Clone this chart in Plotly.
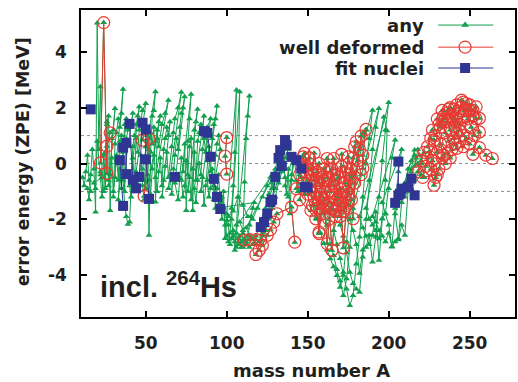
import plotly.graph_objects as go

# Error of the zero-point energy per nucleus: (mass number A, error in MeV).
# Nuclei are listed isotopic chain by isotopic chain; None breaks a line.

# nuclei that are not classed as well deformed
light_nuclei = [
    (11, -0.5), (12, -0.8), (13, -0.3), (14, 0.3), (15, -0.6), (16, -1.0),
    (14, -0.9), (15, -1.3), (16, -0.4), (17, 0.5), (18, -0.2), (19, -1.74), (20, 5.03), (21, 0.5), (22, 2.75), (23, -0.5),
    (18, -0.7), (19, -0.9), (20, 0.8), (22, -0.4), (23, -1.2), (24, 0.3), (25, -0.9), (26, 1.4), (27, -0.6),
    (22, -0.3), (24, -1.0), (25, 0.4), (26, 1.5), (27, 1.7), (28, -1.68), (29, 0.9), (30, 1.2), (31, 1.97),
    (27, -0.8), (28, -0.4), (29, 0.2), (30, -1.2), (31, 0.7), (32, 1.1), (33, 1.6), (34, 1.3), (35, 1.8), (36, 2.66),
    (30, -1.0), (31, -0.5), (32, 0.3), (33, -0.6), (34, 0.8), (35, 1.0), (36, 0.4), (37, 1.4), (38, 1.6),
    (33, -1.3), (34, -0.2), (35, -0.9), (36, 0.6), (37, -1.0), (38, 0.9), (39, 1.2), (40, 1.5), (41, 1.3), (42, 1.8),
    (36, -0.6), (37, -1.5), (38, -1.9), (39, -2.18), (40, -2.1), (41, -0.4), (42, 0.6), (43, 1.0), (44, 1.4), (45, 1.7), (46, 2.03),
    (40, -0.8), (41, -1.2), (42, 0.2), (43, -0.7), (44, 0.9), (45, 0.4), (46, 1.2), (47, 1.5), (48, 1.9), (50, 2.15),
    (44, -0.3), (45, -1.0), (46, -0.5), (47, 0.3), (48, -0.8), (49, -1.3), (50, 0.6), (51, 1.0), (52, -2.57), (53, 0.4), (54, 1.7), (55, 1.9), (56, 2.57),
    (48, -0.2), (50, -0.9), (51, -0.4), (52, 0.5), (53, 1.1), (54, 0.7), (55, 1.3), (56, -1.38), (57, 0.9), (58, 1.5), (59, 1.7),
    (52, -0.6), (53, -1.1), (54, -0.2), (55, 0.3), (56, 0.8), (57, 1.2), (58, 0.6), (60, 1.4), (62, 1.8), (64, 2.27),
    (56, -0.5), (57, -1.0), (58, -0.3), (59, 0.2), (60, -0.8), (61, 0.5), (62, 0.9), (63, 1.3), (64, 1.0), (65, 1.5),
    (60, -1.2), (61, -0.6), (62, -0.1), (63, 0.4), (64, -0.5), (66, 0.6), (67, 1.1), (68, 1.6), (70, 2.0), (72, 2.55),
    (64, -0.9), (65, -0.4), (66, -1.1), (67, -0.2), (68, 0.3), (69, 0.9), (70, 0.5), (71, 1.3), (72, 1.8), (73, 2.0), (74, 2.39),
    (68, -0.7), (70, -1.3), (71, -0.5), (72, 0.2), (73, -0.3), (74, 0.7), (75, -1.68), (76, 0.8), (77, 1.6), (78, 2.48),
    (72, -0.6), (73, -1.2), (74, -0.8), (75, 0.1), (76, -0.4), (77, 0.6), (78, 0.9), (79, -1.68), (80, 1.2), (81, 1.5), (82, 1.94),
    (76, -1.0), (77, -0.5), (78, -1.3), (79, -0.2), (80, 0.4), (81, -0.6), (82, 0.8), (83, 1.1), (84, 1.4), (85, 1.2), (86, 1.7),
    (80, -0.9), (81, -1.4), (82, -0.6), (83, 0.0), (84, -0.4), (85, 0.5), (86, 0.9), (87, 0.4), (88, 1.3), (90, 1.6),
    (84, -1.0), (85, -0.5), (86, -1.5), (87, -0.8), (88, 0.1), (89, 0.6), (90, -0.3), (91, 0.9), (92, 1.4), (93, 1.6), (94, 2.06),
    (88, -0.6), (89, -1.2), (90, -0.9), (91, -0.2), (92, -1.3), (93, 0.3), (94, 0.7), (95, 1.0), (96, 0.5),
    (92, -0.8), (93, -1.6), (94, -0.9), (95, -0.4), (96, -1.4), (97, -2.0), (98, -1.0), (99, -2.69), (100, -2.04),
]

medium_nuclei = [
    (97, -1.2), (98, -1.6), (99, -2.2), (100, -2.6), (101, -2.8), (102, -2.5), (103, -1.6), (104, -0.8), (105, 0.4), (106, 2.63),
    (100, -1.8), (101, -2.2), (102, -2.9), (103, -2.7), (104, -2.4), (105, -3.11), (106, -2.2), (107, -1.2), (108, 2.57),
    (103, -2.0), (104, -2.6), (105, -2.8), (106, -3.0), (107, -2.7), (108, -2.9), (109, -3.0), (110, -2.5), (111, -0.66), (112, 0.9), (113, 1.7), (114, 2.42),
    (106, -2.5), (107, -2.9), (108, -2.6), (109, -2.8), (110, -3.0), (111, -2.7), (112, -2.9), (113, -2.6), (114, -2.2), (115, -1.9), (116, -1.6), (117, -1.4),
    (98, -1.56), (101, -1.9), (104, -1.7), (107, -1.2), (110, -1.5), (113, -1.9), (116, -2.0), (119, -1.6), (122, -1.2), (125, -0.8), (127, -0.48),
    (108, -2.1), (110, -2.4), (112, -2.8), (114, -3.0), (116, -2.9), (118, -2.6), (120, -2.3), (122, -2.0), (124, -1.6), (126, -1.1), (128, -0.7), (130, -0.3),
    (112, -2.3), (114, -2.6), (116, -2.7), (118, -2.9), (120, -2.8), (122, -2.5), (124, -2.2), (126, -1.7), (128, -1.3), (130, -0.9), (132, -0.5), (134, 0.0),
    (120, -2.2), (122, -2.6), (124, -2.4), (126, -2.0), (128, -1.6), (130, -1.2), (132, -0.7), (134, -0.3), (136, 0.2), (138, 0.5),
    (128, -0.9), (130, -0.2), (132, 0.3), (134, 0.6), (135, 0.1), (136, -0.5), (137, -1.1), (138, -0.2), (139, -1.8), (140, -0.6), (141, 0.3),
    (136, -0.8), (138, -1.2), (140, -0.4), (142, 0.1), (143, -0.6), (144, -1.0), (145, 0.2), (146, -0.5), (148, -1.1), (150, -0.6),
]

heavy_nuclei = [
    (152, -1.0), (154, -1.5), (156, -2.0), (158, -2.5), (160, -2.87), (162, -3.1), (164, -3.41), (166, -3.7), (168, -4.01), (170, -4.43), (172, -4.0), (174, -2.8), (176, -1.5), (178, -0.4),
    (160, -1.8), (162, -2.2), (164, -2.9), (166, -3.3), (168, -3.8), (170, -4.2), (172, -4.73), (174, -4.13), (176, -3.0), (178, -1.6), (180, -0.3), (182, 0.6), (184, 1.1), (186, 1.2),
    (166, -2.4), (168, -2.9), (170, -3.4), (172, -3.9), (174, -4.5), (176, -5.09), (178, -4.73), (180, -3.6), (182, -2.63), (184, -1.2), (186, 0.0), (188, 0.9), (190, 1.91),
    (170, -2.2), (172, -2.6), (174, -3.2), (176, -3.9), (178, -4.3), (180, -4.5), (182, -4.61), (184, -3.35), (186, -2.0), (188, -0.6), (190, 0.5), (192, 1.3), (194, 1.97),
    (176, -2.0), (178, -2.4), (180, -2.9), (182, -3.93), (184, -3.1), (186, -3.0), (188, -2.57), (190, -3.53), (192, -2.63), (194, -1.2), (196, 0.1), (198, 1.2), (200, 2.19),
    (182, -1.9), (184, -2.3), (186, -2.6), (188, -2.9), (190, -2.57), (192, -1.74), (194, -3.47), (196, -1.98), (198, -0.6), (199, 1.17), (197, 1.67),
    (186, -1.6), (188, -2.0), (190, -2.2), (192, -2.4), (194, -2.7), (196, -1.98), (198, -1.8), (200, -0.9), (202, 0.2), (204, 0.84),
    (190, -1.9), (192, -2.1), (194, -2.4), (196, -2.6), (198, -2.8), (200, -2.5), (202, -2.97), (204, -1.6), (206, -0.3), (208, 0.5),
    (196, -1.4), (198, -1.8), (200, -2.2), (202, -2.99), (204, -2.8), (206, -2.73), (208, -2.2), (210, -2.57), (212, -1.0), (214, -0.2), (216, 0.48),
    (204, -1.8), (206, -2.69), (208, -1.4), (210, -0.7), (212, -0.2), (214, 0.1), (216, 0.3), (218, 0.0), (220, -0.4),
    (210, -1.2), (212, -0.6), (214, -0.3), (216, -0.1), (217, 0.2), (218, 0.5), (219, 0.3), (220, 0.0), (222, -0.5),
]

# well deformed nuclei
deformed_light = [
    (22, 0.02), (24, 5.05), (26, -0.36), (26, 0.62), (28, 1.1), None,
    (48, 0.84), (52, 0.9), (49, -1.17), None,
    (100, -0.38), (99, 0.26), (100, 0.93),
]

deformed_medium = [
    (111, -2.75), (114, -2.73), (118, -2.73), (121, -2.75), (118, -3.26), (120, -3.11), (122, -2.93),
    (125, -2.57), (127, -2.37), (129, -2.1), (131, -1.8), (140, -1.56), (142, -2.82),
]

deformed_heavy = [
    (143, -0.9), (145, -0.4), (147, 0.24), (149, -0.3), (151, -0.9), (153, -1.5), (155, -1.98),
    (145, -1.3), (147, -0.7), (149, -0.1), (151, 0.2), (153, -0.4), (155, -1.0), (157, -2.45), (159, -1.4),
    (148, 0.36), (150, -0.2), (152, -0.6), (154, 0.38), (156, -0.3), (158, -0.8), (160, -1.3), (162, -2.87), (164, -1.6),
    (150, -1.1), (152, -1.68), (154, -1.2), (156, -0.7), (157, 0.0), (159, -0.5), (161, -1.0), (163, -1.4), (165, -3.11), (167, -1.7),
    (153, -0.2), (155, -0.6), (157, -2.51), (158, -1.1), (160, -0.6), (162, 0.18), (164, -0.3), (166, -0.8), (168, -1.3), (170, -1.9),
    (156, -1.6), (158, -1.2), (160, -0.2), (162, -0.5), (164, -1.0), (166, 0.18), (168, -0.4), (170, -0.9), (172, -3.02), (174, -1.5),
    (159, -1.8), (161, -1.5), (163, -0.8), (165, -0.2), (167, -0.6), (169, -1.2), (171, 0.33), (173, -0.3), (175, -0.8), (177, -1.3),
    (163, -2.0), (165, -1.6), (167, -1.1), (169, -0.5), (171, -0.1), (173, -0.7), (175, 0.24), (177, -0.2), (179, -0.7), (178, -1.98),
    (167, -1.9), (169, -1.5), (171, -1.2), (173, -1.6), (175, -1.1), (177, -0.5), (179, 0.6), (181, 0.1), (183, -0.4),
    (172, -1.7), (174, -1.0), (176, -0.4), (178, 0.2), (180, 0.78), (182, 0.5), (183, 0.98), (186, 1.22), (184, 0.3), (184, -0.18),
    None,
    (218, -0.3), (220, 0.1), (222, 0.4), (224, 0.2), (226, -0.2), (228, -0.78), (230, -0.4),
    (221, -0.5), (223, -0.1), (225, 0.42), (227, 0.1), (229, -0.5), (231, -0.2), (233, 0.2), (235, 0.0),
    (224, 0.6), (226, 0.9), (228, 0.84), (230, 0.4), (232, 0.7), (234, 0.3), (236, 0.36), (238, 0.2),
    (227, 1.2), (229, 1.0), (231, 1.4), (233, 1.55), (235, 1.1), (237, 0.8), (239, 0.5), (241, 0.7), (242, 0.54),
    (230, 1.6), (232, 1.3), (234, 1.7), (236, 1.5), (238, 1.2), (240, 0.9), (242, 1.1), (244, 0.8), (246, 0.6),
    (233, 1.9), (235, 1.6), (237, 1.95), (239, 1.7), (240, 1.95), (242, 1.5), (244, 1.2), (246, 1.0), (248, 0.9), (250, 0.7),
    (236, 1.8), (238, 2.0), (241, 1.31), (243, 1.8), (245, 2.27), (247, 1.9), (249, 1.6), (251, 1.3), (253, 1.0),
    (240, 1.6), (242, 2.1), (244, 2.0), (246, 2.2), (248, 2.15), (250, 1.9), (252, 1.7), (254, 2.03), (256, 1.62),
    (244, 1.4), (246, 1.7), (248, 1.9), (250, 2.1), (252, 1.9), (254, 1.6), (256, 1.13), (252, 0.33), (256, 0.57), (260, 0.3), (264, 0.18),
]

# nuclei used in the fit
fit_nuclei = [
    (16, 1.94), None,
    (34, 0.12), (36, -1.52), None,
    (36, 0.57), (38, 0.74), (38, -0.38), None,
    (40, 1.42), (42, -0.58), (44, -0.89), None,
    (46, -0.48), (48, 1.46), None,
    (50, 1.22), (50, 0.15), (52, -1.27), None,
    (68, -0.48), None,
    (86, 1.16), (88, 1.1), (90, 0.24), None,
    (92, -0.55), (94, -1.2), (96, -1.63), None,
    (121, -2.28), (123, -2.1), (125, -1.8), (127, -1.38), None,
    (128, -1.3), (130, -0.48), (132, 0.2), (133, 0.48), None,
    (134, -0.09), (136, 0.84), (137, 0.66), None,
    (140, 0.24), (143, 0.12), (146, -0.18), None,
    (148, -0.84), (150, -0.86), None,
    (204, -1.41), (206, -1.14), (206, 0.07), None,
    (207, -1.08), (208, -0.9), (212, -0.84), (214, -0.54), (216, -1.14),
]

x_ticks = [50, 100, 150, 200, 250]
y_ticks = [-4, -2, 0, 2, 4]
y_tick_text = ["-4", "-2", "0", "2", "4"]
band_levels = [-1, 0, 1]

GREEN = "#12a04e"
RED = "#ea3a33"
BLUE = "#2e3592"
TEXT = "#231f20"
FONT = "DejaVu Sans"


def columns(points):
    xs = [p[0] if p is not None else None for p in points]
    ys = [p[1] if p is not None else None for p in points]
    return xs, ys


all_deformed = deformed_light + [None] + deformed_medium + [None] + deformed_heavy
any_x, any_y = columns(light_nuclei + medium_nuclei + heavy_nuclei + [None] + all_deformed)
def_x, def_y = columns(all_deformed)
fit_x, fit_y = columns(fit_nuclei)

fig = go.Figure()

fig.add_trace(go.Scatter(
    x=any_x, y=any_y, mode="lines+markers", name="any",
    line=dict(color=GREEN, width=1),
    marker=dict(symbol="triangle-up", size=6, color=GREEN),
    connectgaps=False,
))
fig.add_trace(go.Scatter(
    x=def_x, y=def_y, mode="lines+markers", name="well deformed",
    line=dict(color=RED, width=1),
    marker=dict(symbol="circle-open", size=12, color=RED, line=dict(width=1.2)),
    connectgaps=False,
))
fig.add_trace(go.Scatter(
    x=fit_x, y=fit_y, mode="lines+markers", name="fit nuclei",
    line=dict(color=BLUE, width=1),
    marker=dict(symbol="square", size=10, color=BLUE),
    connectgaps=False,
))

# legend keys drawn on an overlay axis in unit coordinates, text to their left
legend_rows = [0.951, 0.879, 0.811]
legend_keys = [
    ("any", GREEN, dict(symbol="triangle-up", size=7, color=GREEN)),
    ("well deformed", RED, dict(symbol="circle-open", size=12, color=RED, line=dict(width=1.2))),
    ("fit nuclei", BLUE, dict(symbol="square", size=10, color=BLUE)),
]
for (label, color, marker), yk in zip(legend_keys, legend_rows):
    fig.add_trace(go.Scatter(
        x=[0.823, 0.885, 0.950], y=[yk, yk, yk], mode="lines", xaxis="x2", yaxis="y2",
        line=dict(color=color, width=1), hoverinfo="skip", showlegend=False,
    ))
    fig.add_trace(go.Scatter(
        x=[0.885], y=[yk], mode="markers", xaxis="x2", yaxis="y2",
        marker=marker, hoverinfo="skip", showlegend=False, cliponaxis=False,
    ))
    fig.add_annotation(
        x=0.796, y=yk, xref="paper", yref="paper", xanchor="right", yanchor="middle",
        text=label, showarrow=False,
        font=dict(family=FONT, size=18, weight="bold", color=TEXT),
    )

for lvl in band_levels:
    fig.add_shape(
        type="line", xref="paper", x0=0, x1=1, yref="y", y0=lvl, y1=lvl,
        line=dict(color="#8c8c8c", width=1, dash="dot"), layer="below",
    )

# y tick labels sit close to the frame, right-aligned
for val, txt in zip(y_ticks, y_tick_text):
    fig.add_annotation(
        x=-0.027, y=val, xref="paper", yref="y", xanchor="right", yanchor="middle",
        text=txt, showarrow=False,
        font=dict(family=FONT, size=17, weight="bold", color=TEXT),
    )

axis_common = dict(
    showline=True, linecolor="black", linewidth=2, mirror="allticks",
    ticks="inside", ticklen=6, tickwidth=1.5, tickcolor="black",
    showgrid=False, zeroline=False,
    tickfont=dict(family=FONT, size=17, weight="bold", color=TEXT),
)

fig.update_layout(
    width=518, height=382,
    margin=dict(l=81, r=1, t=10, b=65),
    plot_bgcolor="white", paper_bgcolor="white",
    showlegend=False,
    xaxis=dict(range=[10, 278], tickvals=x_ticks, ticklabelstandoff=10, **axis_common),
    yaxis=dict(range=[-5.5, 5.5], tickvals=y_ticks, showticklabels=False, **axis_common),
    xaxis2=dict(overlaying="x", range=[0, 1], visible=False),
    yaxis2=dict(overlaying="y", range=[0, 1], visible=False),
)

fig.add_annotation(
    x=0.532, y=-0.173, xref="paper", yref="paper", xanchor="center", yanchor="middle",
    text="mass number A", showarrow=False,
    font=dict(family=FONT, size=18, weight="bold", color=TEXT),
)
fig.add_annotation(
    x=-0.134, y=0.5065, xref="paper", yref="paper", xanchor="center", yanchor="middle",
    text="error energy (ZPE) [MeV]", textangle=-90, showarrow=False,
    font=dict(family=FONT, size=17.5, weight="bold", color=TEXT),
)
fig.add_annotation(
    x=0.039, y=0.04, xref="paper", yref="paper", xanchor="left", yanchor="bottom",
    text="incl. <sup>264</sup>Hs", showarrow=False,
    font=dict(family="Liberation Sans", size=29, weight="bold", color=TEXT),
)

fig.write_html("out.html")
